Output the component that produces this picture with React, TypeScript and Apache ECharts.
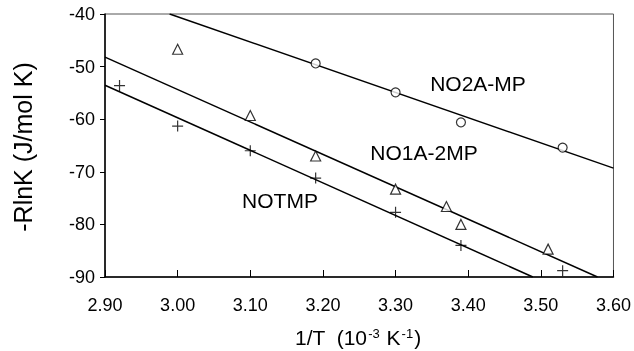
import React, { useEffect, useRef } from "react";
import * as echarts from "echarts";

const xTicks = [2.9, 3.0, 3.1, 3.2, 3.3, 3.4, 3.5, 3.6];
const no2aPoints = [
  [3.19, -49.4],
  [3.3, -54.9],
  [3.39, -60.6],
  [3.53, -65.4],
];
const no1aPoints = [
  [3.0, -46.7],
  [3.1, -59.3],
  [3.19, -67.0],
  [3.3, -73.3],
  [3.37, -76.6],
  [3.39, -80.0],
  [3.51, -84.7],
];
const notmpPoints = [
  [2.92, -53.6],
  [3.0, -61.3],
  [3.1, -66.0],
  [3.19, -71.2],
  [3.3, -77.7],
  [3.39, -84.0],
  [3.53, -88.8],
];
const no2aFit = [
  [2.989, -40],
  [3.6, -69.3],
];
const no1aFit = [
  [2.9, -48.2],
  [3.578, -90],
];
const notmpFit = [
  [2.9, -53.55],
  [3.489, -90],
];
const seriesLabels = ["NO2A-MP", "NO1A-2MP", "NOTMP"];

const FONT = "'Liberation Sans', Arial, sans-serif";

export default function App() {
  const ref = useRef<HTMLDivElement>(null);
  useEffect(() => {
    document.body.style.margin = "0";
    const chart = echarts.init(ref.current!, null, { renderer: "svg" });
    const lineStyle = { color: "#000", width: 1.5 };
    const fitSeries = (name: string, data: number[][]) => ({
      name,
      type: "line",
      data,
      symbol: "none",
      lineStyle,
      silent: true,
      z: 2,
    });
    const markerStyle = { color: "#fff", borderColor: "#000", borderWidth: 1.2 };
    const labelText = (text: string, x: number, y: number) => ({
      type: "text",
      x,
      y,
      style: {
        text,
        font: `21px ${FONT}`,
        fill: "#000",
        align: "center",
        verticalAlign: "middle",
      },
    });
    chart.setOption({
      animation: false,
      grid: {
        left: 105,
        top: 14,
        width: 509,
        height: 263,
        show: true,
        borderColor: "#555",
        borderWidth: 1,
        backgroundColor: "transparent",
      },
      xAxis: {
        type: "value",
        min: xTicks[0],
        max: xTicks[xTicks.length - 1],
        interval: 0.1,
        axisLine: { onZero: false, lineStyle: { color: "#000", width: 1.5 } },
        axisTick: { inside: true, length: 7, lineStyle: { color: "#000", width: 1 } },
        axisLabel: {
          margin: 19,
          fontSize: 18,
          fontFamily: FONT,
          color: "#000",
          formatter: (v: number) => v.toFixed(2),
        },
        splitLine: { show: false },
      },
      yAxis: {
        type: "value",
        min: -90,
        max: -40,
        interval: 10,
        axisLine: { onZero: false, lineStyle: { color: "#000", width: 1.5 } },
        axisTick: { inside: false, length: 5, lineStyle: { color: "#000", width: 1 } },
        axisLabel: {
          margin: 10,
          fontSize: 18,
          fontFamily: FONT,
          color: "#000",
        },
        splitLine: { show: false },
      },
      series: [
        fitSeries("NO2A-MP fit", no2aFit),
        fitSeries("NO1A-2MP fit", no1aFit),
        fitSeries("NOTMP fit", notmpFit),
        {
          name: seriesLabels[0],
          type: "scatter",
          data: no2aPoints,
          symbol: "circle",
          symbolSize: 9,
          itemStyle: markerStyle,
          z: 3,
        },
        {
          name: seriesLabels[1],
          type: "scatter",
          data: no1aPoints,
          symbol: "triangle",
          symbolSize: 10,
          itemStyle: markerStyle,
          z: 3,
        },
        {
          name: seriesLabels[2],
          type: "scatter",
          data: notmpPoints,
          symbol: "path://M5,0L5,10M0,5L10,5",
          symbolSize: 11,
          itemStyle: { color: "none", borderColor: "#000", borderWidth: 1.2 },
          z: 3,
        },
      ],
      graphic: [
        labelText(seriesLabels[0], 478, 83),
        labelText(seriesLabels[1], 424, 152),
        labelText(seriesLabels[2], 280, 200),
        {
          type: "text",
          x: 23,
          y: 147,
          rotation: Math.PI / 2,
          style: {
            text: "-RlnK (J/mol K)",
            font: `25px ${FONT}`,
            fill: "#000",
            align: "center",
            verticalAlign: "middle",
          },
        },
        {
          type: "text",
          x: 358,
          y: 337,
          style: {
            text: "1/T  (10{sup|-3} K{sup|-1})",
            fill: "#000",
            align: "center",
            verticalAlign: "middle",
            fontSize: 21,
            fontFamily: FONT,
            rich: {
              sup: {
                fontSize: 13,
                fontFamily: FONT,
                fill: "#000",
                verticalAlign: "top",
                padding: [0, 1, 0, 1],
              },
            },
          },
        },
      ],
    });
    return () => chart.dispose();
  }, []);
  return (
    <div
      ref={ref}
      style={{ position: "fixed", left: 0, top: 0, width: 634, height: 351 }}
    />
  );
}
